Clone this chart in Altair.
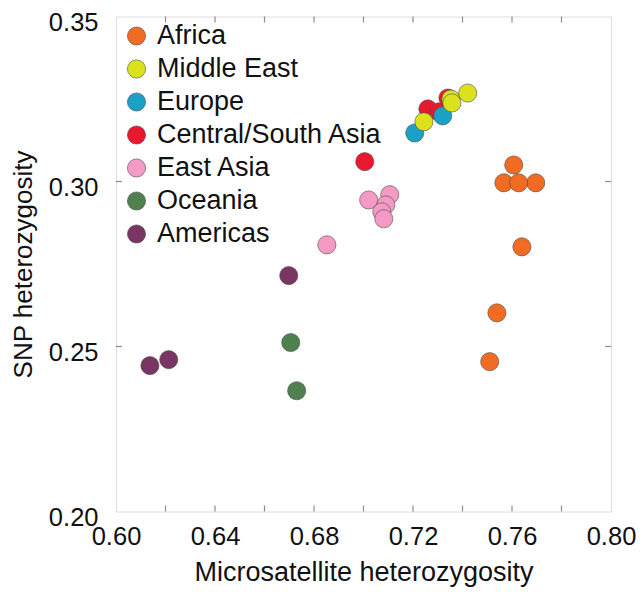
import altair as alt
import pandas as pd

regions = ["Africa", "Middle East", "Europe", "Central/South Asia",
           "East Asia", "Oceania", "Americas"]
colors = ["#F26B22", "#DCE11E", "#1BA1C8", "#E8192F",
          "#F49AC4", "#4F8150", "#7B3562"]

# drawing order (back to front)
draw_order = ["Americas", "Oceania", "East Asia", "Central/South Asia",
              "Europe", "Middle East", "Africa"]

micro = {
    "Americas": [0.6698, 0.6137, 0.6213],
    "Oceania": [0.6706, 0.6730],
    "East Asia": [0.6852, 0.7021, 0.7106, 0.7090, 0.7074, 0.7082],
    "Central/South Asia": [0.7005, 0.7260, 0.7304, 0.7341],
    "Europe": [0.7207, 0.7320],
    "Middle East": [0.7244, 0.7353, 0.7357, 0.7421],
    "Africa": [0.7607, 0.7567, 0.7696, 0.7627, 0.7640, 0.7539, 0.7510],
}
snp = {
    "Americas": [0.2715, 0.2442, 0.2460],
    "Oceania": [0.2512, 0.2366],
    "East Asia": [0.2808, 0.2944, 0.2960, 0.2929, 0.2908, 0.2887],
    "Central/South Asia": [0.3060, 0.3220, 0.3211, 0.3253],
    "Europe": [0.3147, 0.3199],
    "Middle East": [0.3181, 0.3250, 0.3238, 0.3268],
    "Africa": [0.3050, 0.2996, 0.2996, 0.2996, 0.2802, 0.2602, 0.2454],
}

x_labels = [0.60, 0.64, 0.68, 0.72, 0.76, 0.80]
x_minor = [0.62, 0.64, 0.66, 0.68, 0.70, 0.72, 0.74, 0.76, 0.78]
y_labels = [0.20, 0.25, 0.30, 0.35]
y_minor = [0.25, 0.30]

rows = []
i = 0
for r in draw_order:
    for xv, yv in zip(micro[r], snp[r]):
        rows.append({"region": r, "micro": xv, "snp": yv, "ord": i})
        i += 1
df = pd.DataFrame(rows)

W, H = 495, 495
FONT = "Liberation Sans"
GRAY = "#8c8c8c"
FS = 27

xscale = alt.Scale(domain=[0.60, 0.80], nice=False, zero=False)
yscale = alt.Scale(domain=[0.20, 0.35], nice=False, zero=False)

xaxis = alt.Axis(values=x_labels, format=".2f", title="Microsatellite heterozygosity",
                 grid=False, ticks=False, tickSize=0, domain=False,
                 labelFont=FONT, labelFontSize=25.5, labelColor="#111",
                 labelPadding=13, titleFont=FONT, titleFontSize=FS,
                 titleFontWeight="normal", titleColor="#111", titlePadding=9,
                 labelFlush=False)
yaxis = alt.Axis(values=y_labels, format=".2f", title="SNP heterozygosity",
                 grid=False, ticks=False, tickSize=0, domain=False,
                 labelFont=FONT, labelFontSize=25.5, labelColor="#111",
                 labelPadding=18, labelOffset=6, titleFont=FONT, titleFontSize=26,
                 titleFontWeight="normal", titleColor="#111", titlePadding=12,
                 labelFlush=False)

points = alt.Chart(df).mark_point(
    filled=True, shape="circle", size=330, opacity=1,
    stroke="#4a4a4a", strokeWidth=0.6
).encode(
    x=alt.X("micro:Q", scale=xscale, axis=xaxis),
    y=alt.Y("snp:Q", scale=yscale, axis=yaxis),
    color=alt.Color("region:N", scale=alt.Scale(domain=regions, range=colors),
                    legend=alt.Legend(title=None, orient="none", legendX=7, legendY=6,
                                      labelFont=FONT, labelFontSize=FS, labelColor="#111",
                                      labelLimit=0,
                                      symbolSize=330, symbolType="circle",
                                      symbolStrokeColor="#4a4a4a", symbolStrokeWidth=0.6,
                                      symbolOpacity=1, rowPadding=5, labelOffset=7,
                                      padding=0)),
    order=alt.Order("ord:Q"),
)

tx = pd.DataFrame({"micro": x_minor})
ty = pd.DataFrame({"snp": y_minor})
TL = 6
tick_style = dict(color=GRAY, strokeWidth=1.2)

xb = alt.Chart(tx).mark_rule(**tick_style).encode(
    x=alt.X("micro:Q", scale=xscale, axis=xaxis), y=alt.value(H), y2=alt.value(H - TL))
xt = alt.Chart(tx).mark_rule(**tick_style).encode(
    x=alt.X("micro:Q", scale=xscale, axis=xaxis), y=alt.value(0), y2=alt.value(TL))
yl = alt.Chart(ty).mark_rule(**tick_style).encode(
    y=alt.Y("snp:Q", scale=yscale, axis=yaxis), x=alt.value(0), x2=alt.value(TL))
yr = alt.Chart(ty).mark_rule(**tick_style).encode(
    y=alt.Y("snp:Q", scale=yscale, axis=yaxis), x=alt.value(W), x2=alt.value(W - TL))

chart = alt.layer(points, xb, xt, yl, yr).properties(
    width=W, height=H,
    autosize=alt.AutoSizeParams(type="none"),
    padding={"left": 108, "top": 8.5, "right": 25, "bottom": 79},
).configure_view(stroke=GRAY, strokeWidth=1.5).configure(background="white")

chart.save("out.html", embed_options={"renderer": "svg", "actions": False})
